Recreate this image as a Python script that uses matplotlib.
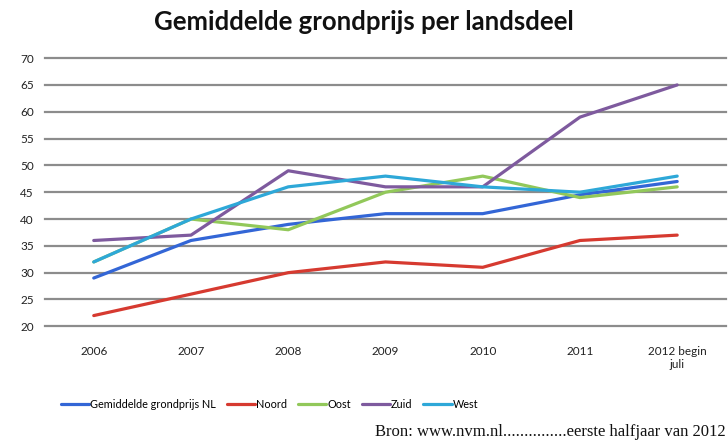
import matplotlib.pyplot as plt

years = ["2006", "2007", "2008", "2009", "2010", "2011", "2012 begin\njuli"]
nl = [29, 36, 39, 41, 41, 44.5, 47]
noord = [22, 26, 30, 32, 31, 36, 37]
oost = [32, 40, 38, 45, 48, 44, 46]
zuid = [36, 37, 49, 46, 46, 59, 65]
west = [32, 40, 46, 48, 46, 45, 48]
yticks = [20, 25, 30, 35, 40, 45, 50, 55, 60, 65, 70]

series = [
    ("Gemiddelde grondprijs NL", nl, "#3366d6"),
    ("Noord", noord, "#d63a30"),
    ("Oost", oost, "#92c85a"),
    ("Zuid", zuid, "#7e5a9e"),
    ("West", west, "#2ea8d8"),
]

plt.rcParams['font.family'] = ['Lato', 'DejaVu Sans']

fig = plt.figure(figsize=(7.28, 4.47), dpi=100)
ax = fig.add_axes([0.062, 0.27, 0.935, 0.6])

x = list(range(len(years)))
for name, vals, col in series:
    ax.plot(x, vals, color=col, linewidth=2.3, label=name, solid_capstyle='round')

ax.set_xlim(-0.5, len(years) - 0.5)
ax.set_ylim(20, 70)
ax.set_yticks(yticks)
for t in yticks:
    ax.axhline(t, color="#8c8c8c", linewidth=1.6, zorder=0, clip_on=False)
for s in ax.spines.values():
    s.set_visible(False)
ax.tick_params(axis='both', length=0, labelsize=8.5, colors="#222222")
ax.tick_params(axis='y', pad=8)
ax.tick_params(axis='x', pad=14)
ax.set_xticks(x)
ax.set_xticklabels(years, va='top', linespacing=1.2)

fig.text(0.5, 0.95, "Gemiddelde grondprijs per landsdeel", ha='center', va='center',
         fontsize=18.5, fontweight='bold', color="#111111")

ax.legend(loc='center', bbox_to_anchor=(0.33, -0.29), ncol=5, frameon=False,
          fontsize=7.8, handlelength=2.6, handletextpad=0.1, columnspacing=1.0)

fig.text(0.997, 0.015, "Bron: www.nvm.nl...............eerste halfjaar van 2012", ha='right',
         va='bottom', fontsize=12, family='Liberation Serif', color="#111111")

fig.savefig("out.png", dpi=100)
